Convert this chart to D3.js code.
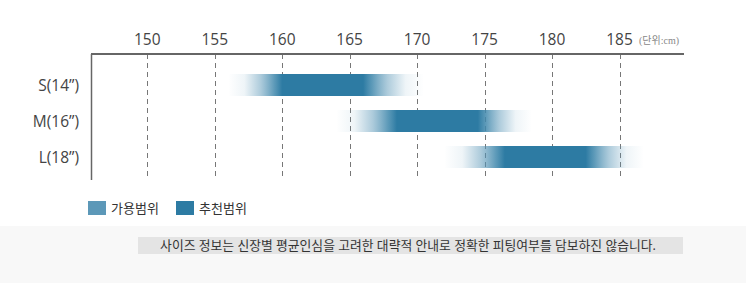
<!DOCTYPE html>
<html>
<head>
<meta charset="utf-8">
<script src="https://cdn.jsdelivr.net/npm/d3@7"></script>
<style>
  body { margin: 0; background: #fff; }
  svg { display: block; font-family: "Open Sans", "Noto Sans", "Noto Sans CJK KR", sans-serif; }
</style>
</head>
<body>
<div id="chart"></div>
<script>
var sizes = ["S(14”)", "M(16”)", "L(18”)"]
var availMin = [156, 164, 172]
var availMax = [170.5, 178.5, 186.8]
var recMin = [160, 168.5, 176.5]
var recMax = [166, 174.5, 182.5]
var tickValues = [150, 155, 160, 165, 170, 175, 180, 185]
var legendLabels = ["가용범위", "추천범위"]
var unitText = "(단위:cm)"
var noteText = "사이즈 정보는 신장별 평균인심을 고려한 대략적 안내로 정확한 피팅여부를 담보하진 않습니다."

var width = 746, height = 283
var colorDark = "#2d7ba3", colorLight = "#5c98b8", colorMid = "#4289ad"
var axisY = 54, axisLeft = 91, axisRight = 684, gridBottom = 180

var svg = d3.select("#chart").append("svg")
    .attr("width", width)
    .attr("height", height)

var x = d3.scaleLinear()
    .domain([150, 185])
    .range([147.3, 619.5])

var y = d3.scalePoint()
    .domain(sizes)
    .range([85, 157])

var barH = 22

// fondo inferior
svg.append("rect")
    .attr("x", 0).attr("y", 226)
    .attr("width", width).attr("height", height - 226)
    .attr("fill", "#f8f8f8")

// lineas de guia
svg.append("g")
    .selectAll("line")
    .data(tickValues)
    .enter().append("line")
    .attr("x1", function (d) { return Math.round(x(d)) + 0.5 })
    .attr("x2", function (d) { return Math.round(x(d)) + 0.5 })
    .attr("y1", axisY)
    .attr("y2", gridBottom)
    .attr("stroke", "#777")
    .attr("stroke-width", 1)
    .attr("stroke-dasharray", "5,4")

// gradientes
var defs = svg.append("defs")
sizes.forEach(function (s, i) {
    var span = availMax[i] - availMin[i]
    var g = defs.append("linearGradient")
        .attr("id", "grad" + i)
        .attr("x1", "0%").attr("x2", "100%")
        .attr("y1", "0%").attr("y2", "0%")
    var a = (recMin[i] - availMin[i]) / span
    var b = (recMax[i] - availMin[i]) / span
    var stops = [
        [0, colorLight, 0],
        [a * 0.3, colorLight, 0.1],
        [a * 0.6, colorLight, 0.5],
        [a * 0.85, colorMid, 0.85],
        [a, colorDark, 1],
        [b, colorDark, 1],
        [b + (1 - b) * 0.15, colorMid, 0.85],
        [b + (1 - b) * 0.4, colorLight, 0.5],
        [b + (1 - b) * 0.7, colorLight, 0.1],
        [1, colorLight, 0]
    ]
    stops.forEach(function (st) {
        g.append("stop")
            .attr("offset", (st[0] * 100) + "%")
            .attr("stop-color", st[1])
            .attr("stop-opacity", st[2])
    })
})

// barras
svg.append("g")
    .selectAll("rect")
    .data(sizes)
    .enter().append("rect")
    .attr("x", function (d, i) { return x(availMin[i]) })
    .attr("width", function (d, i) { return x(availMax[i]) - x(availMin[i]) })
    .attr("y", function (d) { return y(d) - barH / 2 })
    .attr("height", barH)
    .attr("fill", function (d, i) { return "url(#grad" + i + ")" })

// ejes
svg.append("line")
    .attr("x1", axisLeft).attr("x2", axisRight)
    .attr("y1", axisY).attr("y2", axisY)
    .attr("stroke", "#666").attr("stroke-width", 2)
svg.append("line")
    .attr("x1", axisLeft + 0.5).attr("x2", axisLeft + 0.5)
    .attr("y1", axisY).attr("y2", gridBottom)
    .attr("stroke", "#666").attr("stroke-width", 1.5)

svg.append("g")
    .selectAll("text")
    .data(tickValues)
    .enter().append("text")
    .attr("x", function (d) { return x(d) })
    .attr("y", 45)
    .attr("text-anchor", "middle")
    .attr("font-size", 15.5)
    .attr("fill", "#444")
    .text(function (d) { return d })

svg.append("text")
    .attr("x", 639).attr("y", 44)
    .attr("font-size", 10)
    .attr("font-family", "'Liberation Serif', 'Noto Sans CJK KR', serif")
    .attr("fill", "#888")
    .text(unitText)

svg.append("g")
    .selectAll("text")
    .data(sizes)
    .enter().append("text")
    .attr("x", 79)
    .attr("y", function (d) { return y(d) + 5.5 })
    .attr("text-anchor", "end")
    .attr("font-size", 15.5)
    .attr("fill", "#444")
    .text(function (d) { return d })

// leyenda
var leg = svg.append("g")
    .selectAll("g")
    .data(legendLabels)
    .enter().append("g")
    .attr("transform", function (d, i) { return "translate(" + (88 + i * 88) + ",201)" })
leg.append("rect")
    .attr("width", 18).attr("height", 14)
    .attr("fill", function (d, i) { return i == 0 ? colorLight : colorDark })
leg.append("text")
    .attr("x", 23).attr("y", 12)
    .attr("font-size", 13)
    .attr("fill", "#333")
    .text(function (d) { return d })

// nota
svg.append("rect")
    .attr("x", 138).attr("y", 237)
    .attr("width", 545).attr("height", 17)
    .attr("fill", "#e4e4e4")
svg.append("text")
    .attr("x", 408).attr("y", 250)
    .attr("text-anchor", "middle")
    .attr("font-size", 12.8)
    .attr("fill", "#333")
    .text(noteText)
</script>
</body>
</html>
